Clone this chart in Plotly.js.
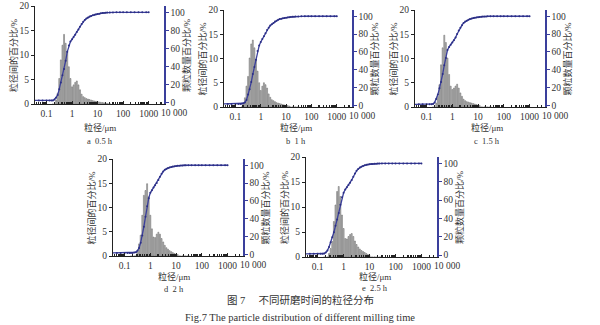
<!DOCTYPE html>
<html><head><meta charset="utf-8">
<script src="https://cdn.plot.ly/plotly-3.0.1.min.js"></script>
<style>html,body{margin:0;padding:0;background:#fff}#chart{width:600px;height:325px}</style>
</head><body><div id="chart"></div>
<script>
// particle size bins (μm) for the histogram bars
const sizes = [0.178,0.205,0.237,0.274,0.316,0.365,0.422,0.487,0.562,0.649,0.750,0.866,1.000,1.155,1.334,1.540,1.778,2.054,2.371,2.738,3.162,3.652,4.217,4.870,5.623,6.494,7.499,8.660,10.00,11.55,13.34,15.40,17.78,20.54,23.71,27.38,31.62];
// interval percentage (%) per bin, each milling time
const barsA = [0,0,0.8,2.2,5.2,9,12,14.2,12.4,10.7,7.6,5.2,3.5,3.9,4.4,4.7,3.9,2.9,2.0,1.5,1.3,1.1,1.0,0.9,0.8,0.7,0.6,0.55,0.5,0.4,0.35,0.3,0.25,0.2,0.15,0,0];
const barsB = [0,0.8,1.9,4.3,6.3,10.1,13,13.8,12.2,9.8,7.4,5.0,3.4,4.3,5.0,4.6,3.9,2.7,2.0,1.5,1.3,1.1,0.9,0.8,0.7,0.6,0.5,0.4,0.35,0.3,0.2,0,0,0,0,0,0];
const barsC = [0,0,0.8,2.2,4.6,8.7,12.2,14.8,13.3,10.1,6.7,4.3,3.6,3.9,4.3,4.7,3.9,2.9,2.2,1.6,1.3,1.1,1.0,0.9,0.8,0.7,0.6,0.5,0.4,0.3,0,0,0,0,0,0,0];
const barsD = [0,0,0,0,0.8,2.5,4.3,8.4,12.5,13.5,14.9,12.2,8.4,5.6,3.9,3.8,4.5,4.9,4.5,3.6,2.9,2.2,1.7,1.4,1.1,0.9,0.7,0.5,0.4,0.3,0,0,0,0,0,0,0];
const barsE = [0,0,0,0.7,1.7,3.1,7.1,10.4,13.1,14.1,12.1,8.4,5.7,3.7,3.6,4.1,4.5,4.7,4.1,3.2,2.5,2.0,1.6,1.3,1.1,0.9,0.7,0.5,0.3,0,0,0,0,0,0,0,0];

// cumulative curve sizes (μm)
const cumSizes = [0.035,0.05,0.07,0.1,0.13,0.155,0.178,0.205,0.237,0.274,0.316,0.365,0.422,0.487,0.562,0.649,0.75,0.866,1.0,1.155,1.334,1.54,1.778,2.054,2.371,2.738,3.162,3.652,4.217,4.87,5.623,6.494,7.499,8.66,10,11.55,13.34,15.4,17.78,20.54,23.71,30,40,55,75,100,140,200,280,400,560,800,1000];
// cumulative particle number percentage (%)
const cumA = [2,2,2,2,2,2,2,3,5,8,14.5,22,30,37,46,56,63,67.5,70,72.5,75,78,81,84,87,89.5,91.5,93,94.3,95.3,96,96.7,97.2,97.7,98.1,98.5,98.8,99.1,99.3,99.5,99.7,99.8,99.9,100,100,100,100,100,100,100,100,100,100];
const cumB = [1.5,1.5,1.5,1.5,1.5,1.5,1.7,2.2,3,6,12,18,26,35,43,51,61,67,71,74.5,77.5,81,84.5,87,89.5,91,92.5,94,95,96,96.8,97.3,97.7,98,98.3,98.6,98.9,99.1,99.3,99.5,99.6,99.8,99.9,100,100,100,100,100,100,100,100,100,100];
const cumC = [1,1,1,1,1,1,1.5,3,7,12,19,26,35,45,53,62,65.5,68,70.5,73,76,80,84,87,90,92.5,94,95,96,96.8,97.4,97.9,98.3,98.6,98.9,99.2,99.4,99.6,99.7,99.8,99.9,100,100,100,100,100,100,100,100,100,100,100,100];
const cumD = [1.5,1.5,1.5,1.5,1.5,1.5,1.5,1.5,1.8,2.2,4,7,13,21,31,42,54,63,69,72,75,77.5,80,83.5,87,90.5,93,94.8,96,96.8,97.5,98,98.5,98.8,99.1,99.3,99.5,99.7,99.8,99.9,100,100,100,100,100,100,100,100,100,100,100,100,100];
const cumE = [1.5,1.5,1.5,1.5,1.5,1.5,1.8,3,5,9,14,19.5,25,32,39,46,55,63,68,71.5,74,76.5,79,82,85.5,89,92,94,95.5,96.5,97.3,98,98.5,98.8,99.1,99.3,99.5,99.6,99.7,99.8,99.9,100,100,100,100,100,100,100,100,100,100,100,100];

const panelLabels = ["a  0.5 h","b  1 h","c  1.5 h","d  2 h","e  2.5 h"];
const xTickVals = [0.1,1,10,100,1000];
const xTickText = ["0.1","1","10","100","1000"];
const lastTickVal = 10000;
const lastTickText = "10 000";
const leftTicks = [0,5,10,15,20];
const rightTicks = [0,20,40,60,80,100];
const xTitle = "粒径/μm";
const leftTitle = "粒径间的百分比/%";
const rightTitle = "颗粒数量百分比/%";
const caption1 = "图 7　 不同研磨时间的粒径分布";
const caption2 = "Fig.7 The particle distribution of different milling time";

const barsAll = [barsA,barsB,barsC,barsD,barsE];
const cumAll = [cumA,cumB,cumC,cumD,cumE];

// panel geometry in pixels (layout only)
const W = 600, H = 325;
const xRange = [-1.45, 3.6];
const geo = [
  {l:35,  r:164, t:6,   b:104, xt:100, yt:127, cy:141},
  {l:224, r:352, t:10,  b:107, xt:296, yt:127, cy:141},
  {l:415, r:545, t:10,  b:107, xt:487, yt:127, cy:141},
  {l:113, r:243, t:159, b:256, xt:174, yt:276, cy:289},
  {l:306, r:437, t:157, b:257, xt:375, yt:276, cy:288}
];

const serif = "Liberation Serif, Noto Sans CJK SC, serif";
const txtColor = "#333";
const blue = "#3a3f9c";
const tickFont = {family: serif, size: 9.5, color: txtColor};

const data = [];
const layout = {
  width: W, height: H, margin: {l:0,r:0,t:0,b:0},
  paper_bgcolor: "#fff", plot_bgcolor: "#fff",
  showlegend: false, bargap: 0, annotations: []
};

geo.forEach((g, i) => {
  const n = i + 1;
  const xa = n === 1 ? "x" : "x" + n;
  const ya = n === 1 ? "y" : "y" + n;
  const yr = "y" + (n + 5);
  data.push({
    type: "bar", x: sizes, y: barsAll[i], xaxis: xa, yaxis: ya,
    width: sizes.map(s => s * 0.085),
    marker: {color: "#c8c8c8", line: {color: "#707070", width: 0.6}},
    hoverinfo: "skip"
  });
  data.push({
    type: "scatter", mode: "lines+markers", x: cumSizes, y: cumAll[i],
    xaxis: xa, yaxis: yr,
    line: {color: blue, width: 1.3},
    marker: {size: 2, color: "#2c2f85"},
    hoverinfo: "skip", cliponaxis: false
  });
  const xd = [g.l / W, g.r / W];
  const yd = [1 - g.b / H, 1 - g.t / H];
  layout["xaxis" + (n === 1 ? "" : n)] = {
    type: "log", domain: xd, range: xRange, anchor: ya,
    tickmode: "array", tickvals: xTickVals, ticktext: xTickText,
    ticks: "inside", ticklen: 3, tickcolor: "#222", tickwidth: 1,
    minor: {ticks: "inside", ticklen: 2.5, tickcolor: "#222", tickwidth: 1.3, dtick: "D1", showgrid: false},
    showline: true, linecolor: "#222", linewidth: 1,
    showgrid: false, zeroline: false, tickfont: tickFont, ticklabelstandoff: 1
  };
  layout["yaxis" + (n === 1 ? "" : n)] = {
    domain: yd, range: [0, 20], anchor: xa,
    tickmode: "array", tickvals: leftTicks,
    ticks: "outside", ticklen: 3, tickcolor: "#222",
    showline: true, linecolor: "#222", linewidth: 1,
    showgrid: false, zeroline: false, tickfont: tickFont
  };
  layout["yaxis" + (n + 5)] = {
    overlaying: ya, side: "right", anchor: xa, range: [-2, 107],
    tickmode: "array", tickvals: rightTicks,
    ticks: "outside", ticklen: 3, tickcolor: blue,
    showline: true, linecolor: blue, linewidth: 1.5,
    showgrid: false, zeroline: false, tickfont: tickFont
  };
  const ymid = 1 - (g.t + g.b) / 2 / H;
  // position of the 10 000 label beyond the axis end, from the axis scale
  const lastPx = g.l + (Math.log10(lastTickVal) - xRange[0]) / (xRange[1] - xRange[0]) * (g.r - g.l);
  layout.annotations.push(
    {xref: "paper", yref: "paper", x: g.xt / W, y: 1 - g.yt / H, text: xTitle, showarrow: false,
     font: {family: serif, size: 9, color: txtColor}, xanchor: "center", yanchor: "middle"},
    {xref: "paper", yref: "paper", x: g.xt / W, y: 1 - g.cy / H, text: panelLabels[i], showarrow: false,
     font: {family: serif, size: 8.5, color: txtColor}, xanchor: "center", yanchor: "middle"},
    {xref: "paper", yref: "paper", x: (g.l - 22) / W, y: ymid, text: leftTitle, showarrow: false, textangle: -90,
     font: {family: serif, size: 9, color: txtColor}, xanchor: "center", yanchor: "middle"},
    {xref: "paper", yref: "paper", x: (g.r + 22) / W, y: ymid, text: rightTitle, showarrow: false, textangle: -90,
     font: {family: serif, size: 9, color: txtColor}, xanchor: "center", yanchor: "middle"},
    {xref: "paper", yref: "paper", x: lastPx / W, y: 1 - (g.b + 2) / H, text: lastTickText, showarrow: false,
     font: tickFont, xanchor: "center", yanchor: "top"}
  );
});

layout.annotations.push(
  {xref: "paper", yref: "paper", x: 0.5, y: 1 - 300 / H, text: caption1, showarrow: false,
   font: {family: serif, size: 10.5, color: txtColor}, xanchor: "center", yanchor: "middle"},
  {xref: "paper", yref: "paper", x: 0.5, y: 1 - 317 / H, text: caption2, showarrow: false,
   font: {family: serif, size: 10.5, color: txtColor}, xanchor: "center", yanchor: "middle"}
);

Plotly.newPlot("chart", data, layout, {displayModeBar: false, staticPlot: true});
</script>
</body></html>
